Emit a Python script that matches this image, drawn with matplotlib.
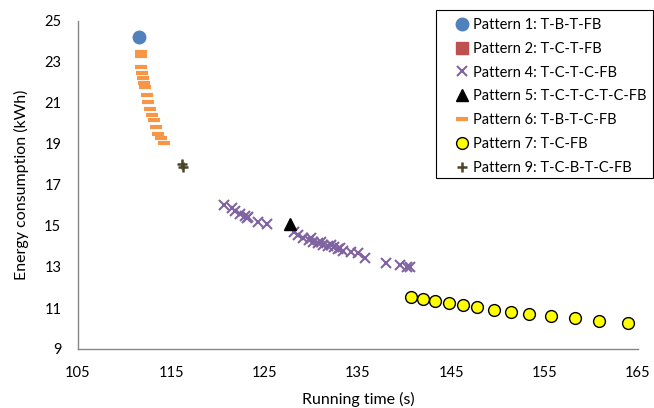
import matplotlib
matplotlib.use("Agg")
import matplotlib.pyplot as plt
from matplotlib.patches import Rectangle

plt.rcParams['font.family'] = ['Lato', 'DejaVu Sans']

# Data
p1_x = [111.5]
p1_y = [24.2]

p2_x = []
p2_y = []

p4_x = [120.6, 121.5, 121.8, 122.4, 122.9, 123.1, 123.25, 124.3, 125.2,
        128.1, 128.6, 129.1, 129.7, 130.0, 130.2, 130.75, 131.0, 131.3, 131.8,
        132.1, 132.4, 132.9, 133.1, 133.4, 134.2, 135.0, 135.8, 138.0, 139.5,
        140.2, 140.6]
p4_y = [16.02, 15.86, 15.75, 15.59, 15.49, 15.38, 15.46, 15.2, 15.1,
        14.72, 14.56, 14.4, 14.32, 14.42, 14.23, 14.15, 14.2, 14.07, 14.02,
        14.08, 13.96, 13.86, 13.95, 13.8, 13.75, 13.67, 13.42, 13.21, 13.1,
        12.98, 12.98]

p5_x = [127.7]
p5_y = [15.1]

p6_x = [111.7, 111.7, 111.8, 111.9, 112.0, 112.1, 112.2, 112.35, 112.5,
        112.7, 112.9, 113.1, 113.4, 113.6, 113.9, 114.2]
p6_y = [23.5, 23.3, 22.77, 22.45, 22.2, 21.96, 21.8, 21.4, 21.06,
        20.7, 20.4, 20.17, 19.84, 19.5, 19.27, 19.03]

p7_x = [140.65, 142.0, 143.3, 144.75, 146.2, 147.8, 149.6, 151.35, 153.3,
        155.65, 158.3, 160.8, 163.9]
p7_y = [11.55, 11.44, 11.33, 11.23, 11.15, 11.03, 10.92, 10.8, 10.7,
        10.6, 10.5, 10.38, 10.28]

p9_x = [116.1, 116.3]
p9_y = [18.0, 17.9]

labels = ["Pattern 1: T-B-T-FB", "Pattern 2: T-C-T-FB", "Pattern 4: T-C-T-C-FB",
          "Pattern 5: T-C-T-C-T-C-FB", "Pattern 6: T-B-T-C-FB", "Pattern 7: T-C-FB",
          "Pattern 9: T-C-B-T-C-FB"]

xticks = [105, 115, 125, 135, 145, 155, 165]
yticks = [9, 11, 13, 15, 17, 19, 21, 23, 25]

W, H = 654, 408
fig = plt.figure(figsize=(W / 100, H / 100), dpi=100)
ax = fig.add_axes([78 / W, 1 - 349 / H, (638 - 78) / W, (349 - 21) / H])

h = []
h.append(ax.plot(p1_x, p1_y, ls='none', marker='o', ms=9, mfc='#4F81BD', mec='#4F81BD', label=labels[0])[0])
h.append(ax.plot(p2_x, p2_y, ls='none', marker='s', ms=9, mfc='#C0504D', mec='#C0504D', label=labels[1])[0])
h.append(ax.plot(p4_x, p4_y, ls='none', marker='x', ms=6.5, mew=1.5, color='#8064A2', label=labels[2])[0])
h.append(ax.plot(p5_x, p5_y, ls='none', marker='^', ms=8, mfc='black', mec='black', label=labels[3])[0])
h.append(ax.plot(p6_x, p6_y, ls='none', marker='_', ms=8.5, mew=3, color='#F79646', label=labels[4])[0])
h.append(ax.plot(p7_x, p7_y, ls='none', marker='o', ms=8.5, mfc='#FFFF00', mec='black', mew=1.0, label=labels[5])[0])
h.append(ax.plot(p9_x, p9_y, ls='none', marker='+', ms=7, mew=1.8, color='#4A452A', label=labels[6])[0])

ax.set_xlim(105, 165)
ax.set_ylim(9, 25)
ax.set_xticks(xticks)
ax.set_yticks(yticks)
ax.tick_params(length=0, labelsize=10.5, colors='black')
ax.tick_params(axis='y', pad=12)
ax.tick_params(axis='x', pad=12)
for s in ['top', 'right']:
    ax.spines[s].set_visible(False)
for s in ['left', 'bottom']:
    ax.spines[s].set_color('#868686')
    ax.spines[s].set_linewidth(1.0)

ax.set_xlabel("Running time (s)", fontsize=11.5, labelpad=9)
ax.set_ylabel("Energy consumption (kWh)", fontsize=11.5, labelpad=11)

# legend frame
fig.patches.append(Rectangle((436 / W, 1 - 178 / H), (653 - 436) / W, (178 - 10) / H,
                             transform=fig.transFigure, fill=True, facecolor='white',
                             edgecolor='black', linewidth=0.8, zorder=5))
leg = fig.legend(handles=h, labels=labels, loc='upper left',
                 bbox_to_anchor=(455 / W, 1 - 18 / H), bbox_transform=fig.transFigure,
                 frameon=False, fontsize=10.5, handlelength=1.0, handletextpad=0.25,
                 labelspacing=0.67, borderpad=0, borderaxespad=0, numpoints=1)
leg.set_zorder(6)

fig.savefig("out.png", dpi=100)
